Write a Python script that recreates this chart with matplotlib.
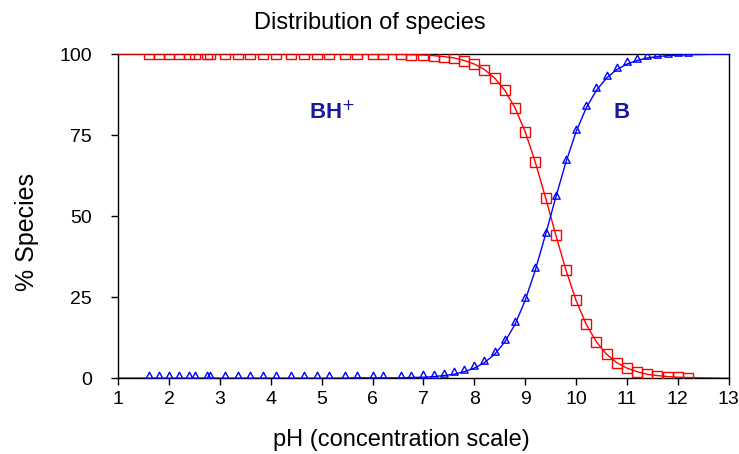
import matplotlib
matplotlib.use("Agg")
import matplotlib.pyplot as plt
from matplotlib.path import Path

# pH of each titration point
ph = [1.6, 1.8, 2.0, 2.2, 2.4, 2.5, 2.75, 2.8, 3.1, 3.35, 3.6, 3.85, 4.1,
      4.4, 4.65, 4.9, 5.15, 5.45, 5.7, 6.0, 6.2, 6.55, 6.75, 7.0, 7.2,
      7.4, 7.6, 7.8, 8.0, 8.2, 8.4, 8.6, 8.8, 9.0, 9.2, 9.4, 9.6, 9.8,
      10.0, 10.2, 10.4, 10.6, 10.8, 11.0, 11.2, 11.4, 11.6, 11.8, 12.0, 12.2]

# % of protonated form BH+
bh_pct = [100, 100, 100, 100, 100, 100, 100, 100, 100, 100, 100, 100, 100,
          100, 100, 100, 100, 100, 99.9, 99.9, 99.9, 99.9, 99.8, 99.7, 99.5,
          99.2, 98.8, 98.0, 96.9, 95.2, 92.6, 88.8, 83.4, 76.0, 66.6, 55.7,
          44.3, 33.4, 24.0, 16.6, 11.2, 7.4, 4.8, 3.1, 2.0, 1.2, 0.8, 0.5,
          0.3, 0.2]

# % of free base B
b_pct = [0, 0, 0, 0, 0, 0, 0, 0, 0, 0, 0, 0, 0,
         0, 0, 0, 0, 0, 0.1, 0.1, 0.1, 0.1, 0.2, 0.3, 0.5,
         0.8, 1.2, 2.0, 3.1, 4.8, 7.4, 11.2, 16.6, 24.0, 33.4, 44.3,
         55.7, 66.6, 76.0, 83.4, 88.8, 92.6, 95.2, 96.9, 98.0, 98.8, 99.2,
         99.5, 99.7, 99.8]

# curve end values at the plot limits
ph_ends = [1, 13]
bh_ends = [100, 0]
b_ends = [0, 100]

xticks = list(range(1, 14))
yticks = [0, 25, 50, 75, 100]

plt.rcParams["font.family"] = ["Liberation Sans", "DejaVu Sans"]

fig = plt.figure(figsize=(7.39, 4.54), dpi=100)
ax = fig.add_axes([0.160, 0.167, 0.826, 0.714])

red = "#ff0000"
blue = "#0000ff"

# triangle marker whose base sits on the data point
tri = Path([(0, 1.45), (-0.85, -0.15), (0.85, -0.15), (0, 1.45)],
           [Path.MOVETO, Path.LINETO, Path.LINETO, Path.CLOSEPOLY])

ax.plot([ph_ends[0]] + ph + [ph_ends[1]], [bh_ends[0]] + bh_pct + [bh_ends[1]],
        color=red, lw=1.0, zorder=3)
ax.plot(ph, bh_pct, ls="none", marker="s", ms=7.2, mfc="none", mec=red,
        mew=1.0, zorder=4)

ax.plot([ph_ends[0]] + ph + [ph_ends[1]], [b_ends[0]] + b_pct + [b_ends[1]],
        color=blue, lw=1.0, zorder=3)
ax.plot(ph, b_pct, ls="none", marker=tri, ms=9, mfc="none", mec=blue,
        mew=1.0, zorder=4)

ax.set_xlim(1, 13)
ax.set_ylim(0, 100)
ax.set_xticks(xticks)
ax.set_yticks(yticks)
ax.tick_params(direction="out", length=5, width=1, labelsize=14)
ax.tick_params(axis="y", pad=14)
ax.tick_params(axis="x", pad=4)
for s in ax.spines.values():
    s.set_linewidth(1.0)
    s.set_color("black")

ax.text(5.2, 82, "BH$^{+}$", color="#1a1a9c", fontsize=16, fontweight="bold",
        ha="center", va="center")
ax.text(10.9, 82, "B", color="#1a1a9c", fontsize=16, fontweight="bold",
        ha="center", va="center")

fig.text(0.5, 0.950, "Distribution of species", ha="center", va="center",
         fontsize=17)
fig.text(0.543, 0.03, "pH (concentration scale)", ha="center", va="center",
         fontsize=17)
fig.text(0.037, 0.49, "% Species", ha="center", va="center", rotation=90,
         fontsize=18)

fig.savefig("out.png", dpi=100)
